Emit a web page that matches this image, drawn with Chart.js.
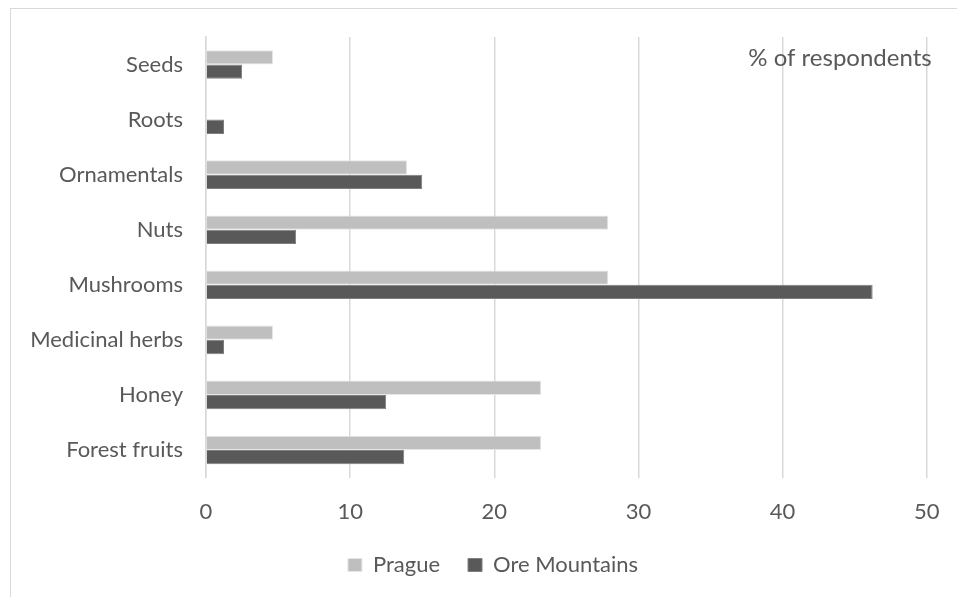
<!DOCTYPE html>
<html>
<head>
<meta charset="utf-8">
<script src="https://cdn.jsdelivr.net/npm/chart.js@4/dist/chart.umd.min.js"></script>
<style>
  html, body { margin: 0; padding: 0; background: #fff; overflow: hidden; }
  #frame { position: absolute; left: 10px; top: 8px; width: 1000px; height: 700px; border: 1px solid #d9d9d9; }
  #wrap { position: absolute; left: 0; top: 0; width: 986px; height: 597px; }
</style>
</head>
<body>
<div id="frame"></div>
<div id="wrap"><canvas id="chart" width="986" height="597"></canvas></div>
<script>
// products collected, top to bottom
const categories = ['Seeds', 'Roots', 'Ornamentals', 'Nuts', 'Mushrooms', 'Medicinal herbs', 'Honey', 'Forest fruits'];
const prague = [4.65, 0, 13.95, 27.91, 27.91, 4.65, 23.26, 23.26];
const oreMountains = [2.5, 1.25, 15, 6.25, 46.25, 1.25, 12.5, 13.75];
const xTicks = [0, 10, 20, 30, 40, 50];
const unitLabel = '% of respondents';

const textColor = '#595959';
Chart.defaults.font.family = 'Lato, sans-serif';
Chart.defaults.font.size = 22;
Chart.defaults.color = textColor;

// writes the unit note in the top right corner of the plot
const unitNote = {
  id: 'unitNote',
  afterDatasetsDraw(chart) {
    const ctx = chart.ctx;
    const x = chart.scales.x.getPixelForValue(xTicks[xTicks.length - 1]) + 5;
    const y = chart.chartArea.top + 21;
    ctx.save();
    ctx.font = '24px Lato, sans-serif';
    ctx.fillStyle = textColor;
    ctx.textAlign = 'right';
    ctx.textBaseline = 'middle';
    ctx.fillText(unitLabel, x, y);
    ctx.restore();
  }
};

const ctx = document.getElementById('chart').getContext('2d');

const chart = new Chart(ctx, {
  type: 'bar',
  data: {
    labels: categories,
    datasets: [
      {
        label: 'Prague',
        data: prague,
        backgroundColor: '#bfbfbf',
        borderColor: '#e6e6e6',
        borderWidth: 1
      },
      {
        label: 'Ore Mountains',
        data: oreMountains,
        backgroundColor: '#595959',
        borderColor: '#7f7f7f',
        borderWidth: 1
      }
    ]
  },
  options: {
    indexAxis: 'y',
    responsive: false,
    animation: false,
    categoryPercentage: 0.52,
    barPercentage: 1,
    layout: {
      padding: { top: 37, left: 10, right: 10, bottom: 11 }
    },
    scales: {
      x: {
        min: 0,
        max: 50,
        afterBuildTicks: scale => { scale.ticks = xTicks.map(v => ({ value: v })); },
        afterFit: scale => { scale.height = 48.5; },
        grid: { color: '#d9d9d9', lineWidth: 1.5, drawTicks: false },
        border: { display: false },
        ticks: { padding: 21, color: textColor }
      },
      y: {
        afterFit: scale => { scale.width = 196; },
        grid: { display: false, drawTicks: false },
        border: { display: true, color: '#d9d9d9', width: 1.5 },
        ticks: { padding: 23, color: textColor }
      },
      // empty axis on the right keeps room beside the 50 tick
      y2: {
        position: 'right',
        afterFit: scale => { scale.width = 49.3; },
        grid: { display: false, drawTicks: false },
        border: { display: false },
        ticks: { display: false }
      }
    },
    plugins: {
      legend: {
        position: 'bottom',
        labels: {
          boxWidth: 14,
          boxHeight: 13,
          padding: 28,
          color: textColor
        }
      },
      tooltip: { enabled: false }
    }
  },
  plugins: [unitNote]
});
</script>
</body>
</html>
